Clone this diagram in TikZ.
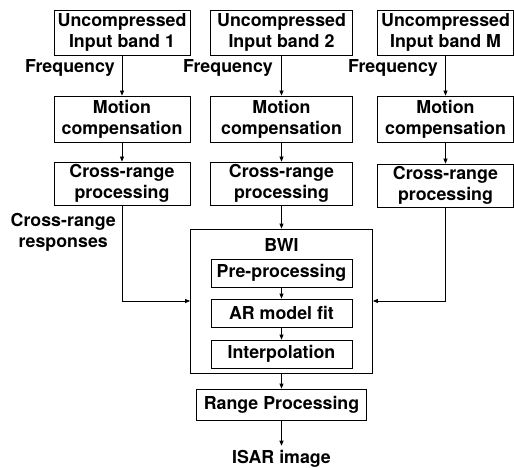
\documentclass[tikz,border=0pt]{standalone}
\usepackage{fontspec}
\setmainfont{TeX Gyre Heros}
\usetikzlibrary{arrows.meta}

\begin{document}
\begin{tikzpicture}[x=1pt, y=-1pt, auto,
    stage/.style ={draw, line width=0.8pt, inner sep=0pt, align=center,
                   minimum width=136pt, minimum height=45pt},
    substage/.style ={draw, line width=0.8pt, inner sep=0pt, align=center,
                   minimum width=141pt, minimum height=28pt},
    flow/.style ={line width=0.8pt, -{Triangle[length=5pt, width=4pt]}},
    every node/.style ={font=\bfseries\fontsize{17.8}{21.3}\selectfont}]
   \useasboundingbox (0,0) rectangle (514,468);
   % three input bands
   \node[stage] (in1) at (122,32.5) {Uncompressed\\Input band 1};
   \node[stage, minimum width=142pt] (in2) at (281.5,32.5) {Uncompressed\\Input band 2};
   \node[stage] (inM) at (445.5,32.5) {Uncompressed\\Input band M};
   \node[stage, minimum height=46pt] (mc1) at (122,119) {Motion\\compensation};
   \node[stage, minimum width=142pt, minimum height=46pt] (mc2) at (281.5,119) {Motion\\compensation};
   \node[stage, minimum height=46pt] (mcM) at (445.5,119) {Motion\\compensation};
   \node[stage, minimum height=43pt] (cr1) at (122,183.5) {Cross-range\\processing};
   \node[stage, minimum width=142pt, minimum height=43pt] (cr2) at (281.5,183.5) {Cross-range\\processing};
   \node[stage, minimum height=43pt] (crM) at (445.5,185.5) {Cross-range\\processing};
   \node[anchor=east, inner sep=0pt] (fq1) at (115,68) {Frequency};
   \node[anchor=east, inner sep=0pt] (fq2) at (273,68) {Frequency};
   \node[anchor=east, inner sep=0pt] (fqM) at (438,68) {Frequency};
   \node[anchor=east, align=center, inner sep=0pt] (resp) at (116,232.5) {Cross-range\\responses};
   % BWI block
   \node[draw, line width=0.8pt, minimum width=182pt, minimum height=144pt] (bwi) at (281.5,301) {};
   \node[inner sep=0pt] (bwilabel) at (281.5,245) {BWI};
   \node[substage] (pre) at (281.5,273) {Pre-processing};
   \node[substage] (ar) at (281.5,313) {AR model fit};
   \node[substage] (interp) at (281.5,354) {Interpolation};
   \node[draw, line width=0.8pt, inner sep=0pt, minimum width=170pt, minimum height=31pt] (range) at (281.5,404.5) {Range Processing};
   \node[anchor=base, inner sep=0pt, outer sep=4pt] (isar) at (281.5,463) {ISAR image};
   \draw[flow] (in1) -- (mc1);
   \draw[flow] (in2) -- (mc2);
   \draw[flow] (inM) -- (mcM);
   \draw[flow] (mc1) -- (cr1);
   \draw[flow] (mc2) -- (cr2);
   \draw[flow] (mcM) -- (crM);
   \draw[flow] (cr1.south) |- (bwi.west);
   \draw[flow] (cr2) -- (bwi);
   \draw[flow] (crM.south) |- (bwi.east);
   \draw[flow] (pre) -- (ar);
   \draw[flow] (ar) -- (interp);
   \draw[flow] (bwi) -- (range);
   \draw[flow] (range) -- (isar);
\end{tikzpicture}
\end{document}
